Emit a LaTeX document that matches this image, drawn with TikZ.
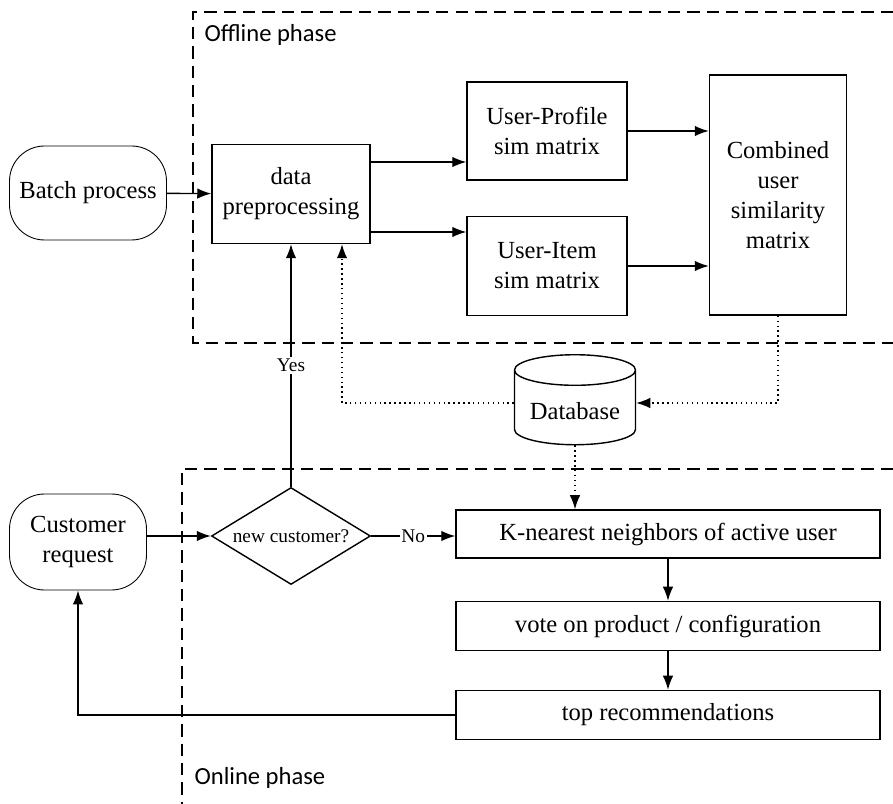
\documentclass[tikz,border=0pt]{standalone}
\usepackage{fontspec}
\setmainfont{Liberation Serif}
\newfontfamily\phasefont{Carlito}
\usetikzlibrary{shapes, shapes.geometric, arrows.meta}

\begin{document}
\begin{tikzpicture}[x=0.02cm, y=-0.02cm,
  line width=0.8pt,
  >={Latex[length=8pt, width=6pt]},
  txt/.style={font=\fontsize{14}{17}\selectfont, align=center},
  proc/.style={rectangle, draw, txt, inner sep=2pt},
  term/.style={rectangle, draw, rounded corners=0.7cm, txt, line width=0.5pt},
  decide/.style={diamond, draw, inner sep=0pt, aspect=1.64, font=\fontsize{11}{13}\selectfont},
  db/.style={cylinder, draw, shape border rotate=90, aspect=0.3, txt},
  phase/.style={dash pattern=on 7pt off 4pt},
  link/.style={->},
  dotlink/.style={->, dotted},
  small/.style={font=\fontsize{11}{13}\selectfont, fill=white, inner sep=1pt}]
\useasboundingbox (0,0) rectangle (893,804);

% phase frames
\draw[phase] (893,12) -- (193,12) -- (193,343) -- (893,343);
\draw[phase] (893,469) -- (182,469) -- (182,804);
\node[anchor=west, font=\phasefont\fontsize{14}{17}\selectfont] (offl) at (198,35) {Offline phase};
\node[anchor=west, font=\phasefont\fontsize{14}{17}\selectfont] (onl) at (188,778) {Online phase};

% offline nodes
\node[term, minimum width=3.14cm, minimum height=1.88cm] (batch) at (88,193) {Batch process};
\node[proc, minimum width=3.16cm, minimum height=1.98cm] (prep) at (291,194) {data\\preprocessing};
\node[proc, minimum width=3.2cm, minimum height=1.96cm] (up) at (547,131) {User-Profile\\sim matrix};
\node[proc, minimum width=3.2cm, minimum height=1.98cm] (ui) at (547,266) {User-Item\\sim matrix};
\node[proc, minimum width=2.74cm, minimum height=4.8cm] (comb) at (778,195) {Combined\\user\\similarity\\matrix};

% database
\node[db, minimum width=2.42cm, minimum height=1.8cm] (db) at (575,411) {Database};

% online nodes
\node[term, minimum width=2.74cm, minimum height=1.92cm] (cust) at (78,542) {Customer\\request};
\node[decide, minimum width=3.18cm, minimum height=1.94cm] (dec) at (291,536) {new customer?};
\node[proc, minimum width=8.48cm, minimum height=0.96cm] (knn) at (668,534) {K-nearest neighbors of active user};
\node[proc, minimum width=8.48cm, minimum height=0.98cm] (vote) at (668,626) {vote on product / configuration};
\node[proc, minimum width=8.48cm, minimum height=0.98cm] (top) at (668,715) {top recommendations};

% connectors
\draw[link] (batch) -- (prep);
\draw[link] ([yshift=0.64cm]prep.east) -- ([yshift=0.64cm]prep.east -| up.west);
\draw[link] ([yshift=-0.76cm]prep.east) -- ([yshift=-0.76cm]prep.east -| ui.west);
\draw[link] (up) -- (up -| comb.west);
\draw[link] (ui) -- (ui -| comb.west);
\draw[dotlink] (comb.south) |- ([yshift=0.16cm]db.east);
\draw[dotlink] ([yshift=0.16cm]db.west) -| ([xshift=1.02cm]prep.south);
\draw[dotlink] (db.south) -- (db.south |- knn.north);
\draw[link] (dec.north) -- node[small] (yes) {Yes} (prep.south);
\draw[link] (cust.east |- dec) -- (dec.west);
\draw[link] (dec.east) -- node[small] (no) {No} (dec.east -| knn.west);
\draw[link] (knn.south) -- (vote.north);
\draw[link] (vote.south) -- (top.north);
\draw[link] (top.west) -| (cust.south);

\end{tikzpicture}
\end{document}
